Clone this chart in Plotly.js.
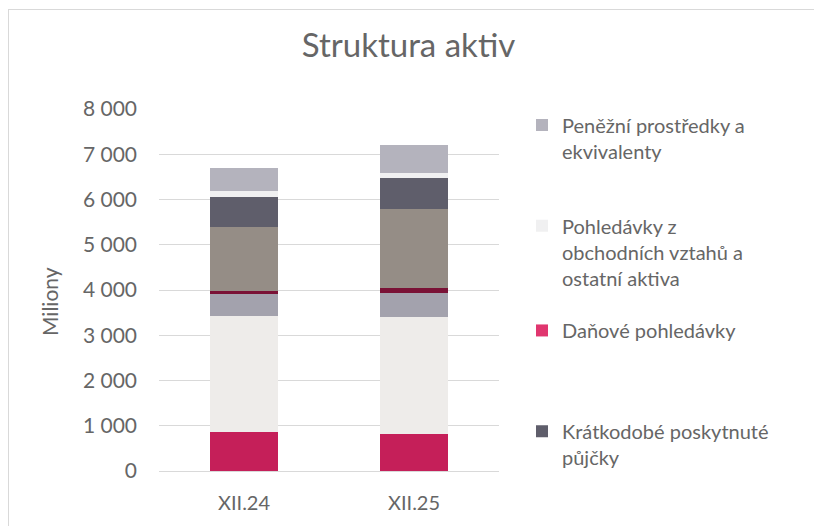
<!DOCTYPE html>
<html>
<head>
<meta charset="utf-8">
<script src="https://cdn.plot.ly/plotly-3.0.1.min.js"></script>
<style>
  html, body { margin: 0; padding: 0; background: #fff; overflow: hidden; width: 814px; height: 526px; }
  #chart { width: 814px; height: 526px; position: absolute; left: 0; top: 0; }
  #frame { position: absolute; left: 8px; top: 9px; width: 806px; height: 517px;
           border-top: 1.5px solid #D9D9D9; border-left: 1.5px solid #D9D9D9;
           box-sizing: border-box; pointer-events: none; }
</style>
</head>
<body>
<div id="chart"></div>
<div id="frame"></div>
<script>
// Categories (x axis)
const categories = ['XII.24', 'XII.25'];

// Series values in millions, bottom to top of each stack
const segCrimson   = [870, 815];
const segLight     = [2560, 2595];
const segGray      = [490, 515];
const segDarkRed   = [50, 130];
const segTaupe     = [1420, 1740];
const segSlate     = [670, 670];   // Krátkodobé poskytnuté půjčky
const segPale      = [125, 125];   // Pohledávky z obchodních vztahů a ostatní aktiva
const segCash      = [515, 625];   // Peněžní prostředky a ekvivalenty

// Legend labels
const nameCash   = 'Peněžní prostředky a<br>ekvivalenty';
const namePale   = 'Pohledávky z<br>obchodních vztahů a<br>ostatní aktiva';
const nameTax    = 'Daňové pohledávky';
const nameSlate  = 'Krátkodobé poskytnuté<br>půjčky';

const textColor = '#666666';
const fontFam = 'Lato, "Open Sans", sans-serif';

function bar(y, color, name, legend, show) {
  return {
    type: 'bar', x: categories, y: y, name: name,
    marker: { color: color, line: { width: 0 } },
    showlegend: !!show, legend: legend || 'legend',
    hoverinfo: 'skip'
  };
}

const traces = [
  bar(segCrimson, '#C51F59', 'Položka 1', 'legend', false),
  bar(segLight,   '#EEECEA', 'Položka 2', 'legend', false),
  bar(segGray,    '#A3A2AD', 'Položka 3', 'legend', false),
  bar(segDarkRed, '#7A1236', 'Položka 4', 'legend', false),
  bar(segTaupe,   '#958D86', 'Položka 5', 'legend', false),
  bar(segSlate,   '#5F5E6B', nameSlate, 'legend4', true),
  bar(segPale,    '#F0F0F1', namePale, 'legend2', true),
  bar(segCash,    '#B4B3BD', nameCash, 'legend', true),
  // legend-only entry (no values drawn)
  { type: 'bar', x: categories, y: [null, null], name: nameTax,
    marker: { color: '#E0366F' }, showlegend: true, legend: 'legend3', hoverinfo: 'skip' }
];

const L = 159, R = 499, T = 108.5, B = 471.5;
const W = 814, H = 526;
function px2x(p) { return (p - L) / (R - L); }
function py2y(p) { return (B - p) / (B - T); }

function leg(topPx) {
  return {
    x: px2x(522), xanchor: 'left', y: py2y(topPx), yanchor: 'top',
    bgcolor: 'rgba(0,0,0,0)', borderwidth: 0,
    font: { family: fontFam, size: 20, color: textColor },
    valign: 'top', itemclick: false, itemdoubleclick: false,
    traceorder: 'normal', tracegroupgap: 0
  };
}

const layout = {
  width: W, height: H,
  margin: { l: L, r: W - R, t: T, b: H - B, pad: 0 },
  paper_bgcolor: '#ffffff', plot_bgcolor: '#ffffff',
  separators: ', ',
  barmode: 'stack',
  bargap: 0.6,
  font: { family: fontFam, color: textColor },
  title: {
    text: 'Struktura aktiv',
    font: { family: fontFam, size: 33, color: textColor },
    xref: 'container', x: 408.5 / W, xanchor: 'center',
    yref: 'container', y: 1 - 45 / H, yanchor: 'middle'
  },
  xaxis: {
    type: 'category',
    showgrid: false, showline: true, linecolor: '#D9D9D9', linewidth: 1,
    ticks: '', tickfont: { family: fontFam, size: 20, color: textColor },
    ticklabelstandoff: 14, fixedrange: true
  },
  yaxis: {
    range: [0, 8000], dtick: 1000, tickformat: ',d',
    showgrid: true, gridcolor: '#D9D9D9', gridwidth: 1,
    zeroline: false, showline: false,
    ticks: '', tickfont: { family: fontFam, size: 21, color: textColor },
    ticklabelstandoff: 21, fixedrange: true
  },
  annotations: [{
    text: 'Miliony', textangle: -90, showarrow: false,
    xref: 'paper', yref: 'paper', x: px2x(50), y: py2y(301),
    xanchor: 'center', yanchor: 'middle',
    font: { family: fontFam, size: 21, color: textColor }
  }],
  legend: leg(105),
  legend2: leg(206),
  legend3: leg(311),
  legend4: leg(412)
};

Plotly.newPlot('chart', traces, layout, { displayModeBar: false, staticPlot: true });
</script>
</body>
</html>
